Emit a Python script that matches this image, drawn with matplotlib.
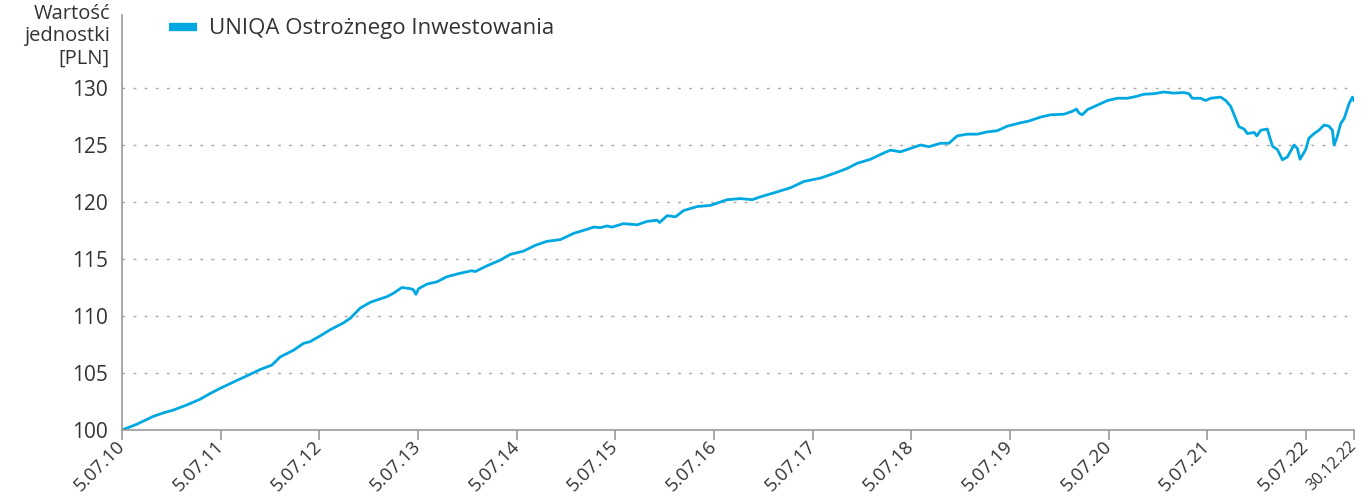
import numpy as np
import pandas as pd
import matplotlib
matplotlib.use("agg")
import matplotlib.pyplot as plt

plt.rcParams["font.family"] = ["Open Sans", "DejaVu Sans"]

# values
dates = [
    "2010-07-05", "2010-08-28", "2010-10-29", "2010-12-05", "2011-01-11", "2011-03-02",
    "2011-04-20", "2011-05-27", "2011-07-03", "2011-08-21", "2011-10-10", "2011-11-28",
    "2012-01-11", "2012-02-10", "2012-03-31", "2012-05-07", "2012-05-31", "2012-07-07",
    "2012-08-14", "2012-10-02", "2012-10-27", "2012-12-03", "2013-01-09", "2013-02-02",
    "2013-03-12", "2013-04-05", "2013-05-06", "2013-06-06", "2013-06-18", "2013-06-27",
    "2013-07-07", "2013-08-07", "2013-09-13", "2013-10-20", "2013-12-08", "2014-01-20",
    "2014-02-02", "2014-03-17", "2014-05-05", "2014-06-11", "2014-07-31", "2014-09-12",
    "2014-10-25", "2014-12-14", "2015-02-01", "2015-03-22", "2015-04-16", "2015-05-11",
    "2015-06-04", "2015-06-23", "2015-08-05", "2015-09-24", "2015-10-31", "2015-12-07",
    "2015-12-16", "2016-01-13", "2016-02-13", "2016-03-14", "2016-05-03", "2016-06-21",
    "2016-07-28", "2016-08-22", "2016-10-10", "2016-11-23", "2016-12-23", "2017-02-11",
    "2017-04-14", "2017-06-02", "2017-08-03", "2017-09-21", "2017-11-10", "2017-12-17",
    "2018-02-04", "2018-03-25", "2018-04-19", "2018-05-26", "2018-07-14", "2018-08-08",
    "2018-09-08", "2018-10-21", "2018-11-21", "2018-12-22", "2019-01-28", "2019-03-06",
    "2019-04-12", "2019-05-19", "2019-06-25", "2019-08-14", "2019-09-13", "2019-10-27",
    "2019-12-03", "2020-01-21", "2020-02-21", "2020-03-07", "2020-03-17", "2020-03-29",
    "2020-04-17", "2020-05-24", "2020-06-30", "2020-08-06", "2020-09-12", "2020-10-13",
    "2020-11-12", "2020-12-19", "2021-01-25", "2021-03-03", "2021-04-09", "2021-04-28",
    "2021-05-10", "2021-06-10", "2021-06-29", "2021-07-17", "2021-08-23", "2021-09-11",
    "2021-09-29", "2021-10-12", "2021-10-30", "2021-11-18", "2021-11-30", "2021-12-25",
    "2022-01-04", "2022-01-19", "2022-02-12", "2022-02-18", "2022-03-03", "2022-03-21",
    "2022-04-09", "2022-04-27", "2022-05-22", "2022-06-03", "2022-06-13", "2022-07-04",
    "2022-07-16", "2022-08-04", "2022-08-22", "2022-09-10", "2022-09-28", "2022-10-11",
    "2022-10-17", "2022-10-27", "2022-11-11", "2022-11-23", "2022-12-12", "2022-12-24",
    "2022-12-30",
]
values = [
    100.0, 100.5, 101.2, 101.5, 101.75, 102.2,
    102.7, 103.2, 103.65, 104.2, 104.75, 105.3,
    105.7, 106.4, 107.0, 107.6, 107.75, 108.25,
    108.8, 109.4, 109.8, 110.7, 111.2, 111.4,
    111.7, 112.0, 112.5, 112.4, 112.3, 111.9,
    112.4, 112.8, 113.0, 113.45, 113.75, 113.97,
    113.9, 114.4, 114.9, 115.4, 115.7, 116.2,
    116.55, 116.7, 117.25, 117.6, 117.8, 117.75,
    117.9, 117.8, 118.1, 118.0, 118.3, 118.4,
    118.2, 118.8, 118.7, 119.25, 119.6, 119.7,
    120.0, 120.2, 120.3, 120.2, 120.45, 120.8,
    121.25, 121.8, 122.1, 122.5, 122.95, 123.4,
    123.75, 124.3, 124.55, 124.4, 124.8, 125.0,
    124.85, 125.15, 125.15, 125.8, 125.95, 125.95,
    126.15, 126.25, 126.65, 126.95, 127.1, 127.45,
    127.65, 127.7, 127.95, 128.15, 127.8, 127.65,
    128.1, 128.5, 128.9, 129.1, 129.1, 129.25,
    129.45, 129.5, 129.65, 129.55, 129.6, 129.5,
    129.1, 129.1, 128.9, 129.1, 129.2, 128.9,
    128.4, 127.65, 126.6, 126.4, 126.0, 126.1,
    125.8, 126.3, 126.4, 125.9, 124.9, 124.6,
    123.7, 123.95, 125.0, 124.7, 123.75, 124.6,
    125.6, 126.0, 126.3, 126.75, 126.65, 126.3,
    125.0, 125.6, 126.9, 127.3, 128.65, 129.2,
    128.9,
]

tick_dates = ["2010-07-05", "2011-07-05", "2012-07-05", "2013-07-05", "2014-07-05",
              "2015-07-05", "2016-07-05", "2017-07-05", "2018-07-05", "2019-07-05",
              "2020-07-05", "2021-07-05", "2022-07-05", "2022-12-30"]
tick_labels = ["5.07.10", "5.07.11", "5.07.12", "5.07.13", "5.07.14", "5.07.15",
               "5.07.16", "5.07.17", "5.07.18", "5.07.19", "5.07.20", "5.07.21",
               "5.07.22", "30.12.22"]
y_ticks = [100, 105, 110, 115, 120, 125, 130]

series_name = "UNIQA Ostrożnego Inwestowania"
line_color = "#00A8E1"
text_color = "#333333"
axis_color = "#9a9a9a"

x = pd.to_datetime(dates)

fig = plt.figure(figsize=(13.68, 5.01), dpi=100)
ax = fig.add_axes([0.0892, 0.1417, 0.9006, 0.8283])

ax.plot(x, values, color=line_color, lw=2.0, solid_joinstyle="round", label=series_name)

ax.set_xlim(pd.Timestamp(tick_dates[0]), pd.Timestamp(tick_dates[-1]))
ax.set_ylim(100, 136.4)

ax.set_yticks(y_ticks)
ax.set_yticklabels([str(v) for v in y_ticks])
ax.set_xticks(pd.to_datetime(tick_dates))
ax.set_xticklabels(tick_labels, rotation=45, ha="right", va="center", rotation_mode="anchor")

for v in y_ticks[1:]:
    ax.axhline(v, color="#a8a8a8", lw=1.0, ls=(0, (2, 6)), zorder=0)

for s in ["top", "right"]:
    ax.spines[s].set_visible(False)
for s in ["left", "bottom"]:
    ax.spines[s].set_color(axis_color)
    ax.spines[s].set_linewidth(1.2)

ax.tick_params(axis="y", length=0, pad=10, labelsize=15, labelcolor=text_color)
ax.tick_params(axis="x", length=7, width=1.2, color=axis_color, pad=3,
               labelsize=13.5, labelcolor=text_color)
# last label is longer; shrink it a bit so it stays inside the figure
ax.get_xticklabels()[-1].set_fontsize(11.5)

leg = ax.legend(loc="upper left", bbox_to_anchor=(0.022, 1.04), frameon=False,
                fontsize=16, handlelength=1.25, handletextpad=0.55, labelcolor=text_color)
for h in leg.get_lines():
    h.set_linewidth(6)
    h.set_solid_capstyle("butt")

fig.text(110 / 1368, 1 - 4 / 501, "Wartość\njednostki\n[PLN]", ha="right", va="top",
         fontsize=14.5, color=text_color, linespacing=1.15)

fig.savefig("out.png", dpi=100)
